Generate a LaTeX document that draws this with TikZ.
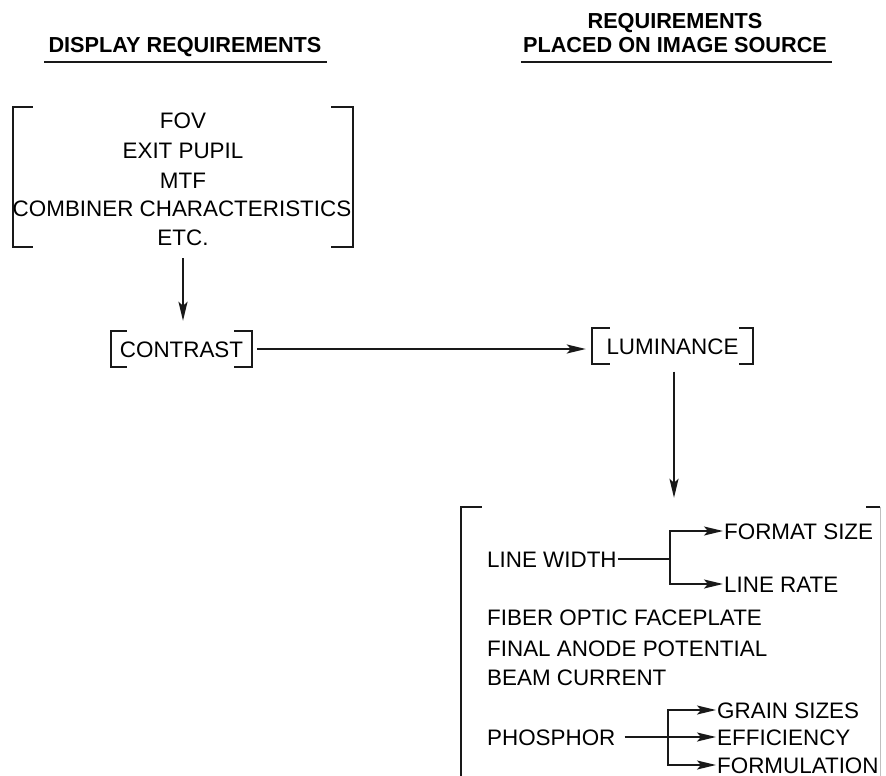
\documentclass[tikz,border=0pt]{standalone}
\usepackage{fontspec}
\setmainfont{Liberation Sans}
\usetikzlibrary{calc,arrows.meta}
\tikzset{
  body/.style={font=\fontsize{22.4pt}{26pt}\selectfont, text=black, inner sep=1pt, text height=16pt, text depth=0pt},
  head/.style={font=\fontsize{21.7pt}{25pt}\selectfont\bfseries, text=black, inner sep=0pt, text height=15.5pt, text depth=0pt},
  brk/.style={body, minimum width=#1, inner sep=0pt},
  brkline/.style={line width=2.3pt, black!90, line cap=butt, line join=miter},
  arr/.style={line width=1.8pt, black!90, -{Stealth[length=19pt,width=9pt,inset=4pt]}},
  conn/.style={line width=1.8pt, black!90},
  uline/.style={line width=2pt, black!90}
}
\newcommand{\bracketsof}[3]{%
  \draw[brkline] ($(#1.north west)+(#2,0)$) -- (#1.north west) -- (#1.south west) -- ($(#1.south west)+(#2,0)$);
  \draw[brkline] ($(#1.north east)+(-#3,0)$) -- (#1.north east) -- (#1.south east) -- ($(#1.south east)+(-#3,0)$);
}
\begin{document}
\begin{tikzpicture}[x=1pt,y=-1pt]
\useasboundingbox[fill=white] (0,0) rectangle (886,776);

% headings
\node[head] (h1) at (185,45) {DISPLAY REQUIREMENTS};
\draw[uline] ($(h1.south west)+(-4,9.5)$) -- ($(h1.south east)+(5,9.5)$);
\node[head] (h2a) at (675,21) {REQUIREMENTS};
\node[head] (h2b) at (675,45) {PLACED ON IMAGE SOURCE};
\draw[uline] ($(h2b.south west)+(-2,9.5)$) -- ($(h2b.south east)+(5,9.5)$);

% display requirements box
\node[draw=none, minimum width=340pt, minimum height=140pt, inner sep=0pt] (disp) at (183,177) {};
\bracketsof{disp}{20}{22}
\node[body] (fov) at (183,120) {FOV};
\node[body] (exit) at (183,150) {EXIT PUPIL};
\node[body] (mtf) at (183,180) {MTF};
\node[body] (comb) at (182,208) {COMBINER CHARACTERISTICS};
\node[body] (etc) at (183,237) {ETC.};

% contrast
\node[brk=141pt, minimum height=36pt] (con) at (181.5,349) {CONTRAST};
\bracketsof{con}{16}{18}

% luminance
\node[brk=161pt, minimum height=35pt] (lum) at (672.5,346) {LUMINANCE};
\bracketsof{lum}{18}{14}

% bottom box
\node[draw=none, minimum width=419pt, minimum height=269pt, inner sep=0pt] (bot) at (670.5,641.5) {};
\draw[brkline] ($(bot.north west)+(21,0)$) -- (bot.north west) -- (bot.south west);
\draw[brkline] ($(bot.north east)+(-14,0)$) -- (bot.north east);
\draw[line width=1pt, black!25] (bot.north east) -- (bot.south east);

% connectors between boxes
\draw[arr, shorten <=11pt, shorten >=10pt] (disp.south) -- (disp.south |- con.north);
\draw[arr, shorten <=5pt, shorten >=6pt] (con.east) -- (con.east -| lum.west);
\draw[arr, shorten <=8pt, shorten >=9pt] ($(lum.south)+(1.5,0)$) -- ($(lum.south |- bot.north)+(1.5,0)$);

% bottom list
\node[body, anchor=west] (lw) at (486,559) {LINE WIDTH};
\node[body, anchor=west] (fmt) at (723,531) {FORMAT SIZE};
\node[body, anchor=west] (lr) at (723,584) {LINE RATE};
\coordinate (lwj) at (670,559);
\draw[conn] (lw.east) -- (lwj);
\draw[arr] (lwj) |- (fmt.west);
\draw[arr] (lwj) |- (lr.west);

\node[body, anchor=west] (fib) at (486,617) {FIBER OPTIC FACEPLATE};
\node[body, anchor=west] (fin) at (486,648) {FINAL ANODE POTENTIAL};
\node[body, anchor=west] (beam) at (486,677) {BEAM CURRENT};

\node[body, anchor=west] (ph) at (486,737) {PHOSPHOR};
\node[body, anchor=west] (grain) at (716,710) {GRAIN SIZES};
\node[body, anchor=west] (eff) at (716,737) {EFFICIENCY};
\node[body, anchor=west] (form) at (716,765) {FORMULATION};
\coordinate (phj) at (668,737);
\draw[conn, shorten <=8pt] (ph.east) -- (phj);
\draw[arr] (phj) |- (grain.west);
\draw[arr] (phj) -- (eff.west);
\draw[arr] (phj) |- (form.west);
\end{tikzpicture}
\end{document}
